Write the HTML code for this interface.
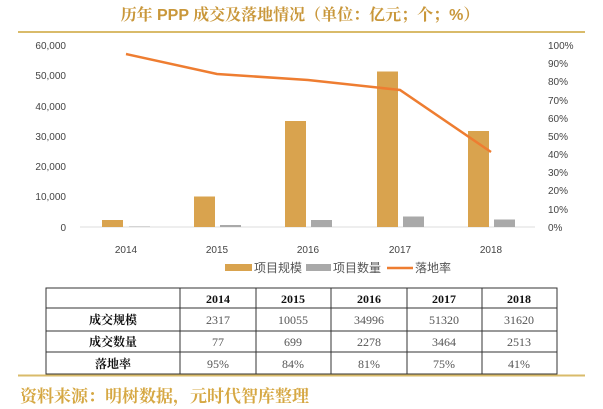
<!DOCTYPE html>
<html><head><meta charset="utf-8"><style>
body{margin:0;background:#fff;width:603px;height:409px;overflow:hidden;font-family:"Liberation Serif","Noto Serif CJK SC",serif}
</style></head><body>
<svg width="603" height="409" xmlns="http://www.w3.org/2000/svg" style="position:absolute;left:0;top:0">
<text x="300" y="20" text-anchor="middle" font-size="16" font-weight="bold" fill="#c9973a" font-family="Liberation Sans,Noto Serif CJK SC,serif">历年 PPP 成交及落地情况（单位：亿元；个；%）</text>
<line x1="18" y1="32" x2="585" y2="32" stroke="#d9bb6a" stroke-width="2"/>
<g font-family="Liberation Sans,sans-serif" font-size="10" fill="#444">
<text x="66" y="49" text-anchor="end">60,000</text>
<text x="66" y="79" text-anchor="end">50,000</text>
<text x="66" y="110" text-anchor="end">40,000</text>
<text x="66" y="140" text-anchor="end">30,000</text>
<text x="66" y="170" text-anchor="end">20,000</text>
<text x="66" y="200" text-anchor="end">10,000</text>
<text x="66" y="231" text-anchor="end">0</text>
<text x="548" y="49">100%</text><text x="548" y="67">90%</text><text x="548" y="85">80%</text><text x="548" y="104">70%</text><text x="548" y="122">60%</text><text x="548" y="140">50%</text><text x="548" y="158">40%</text><text x="548" y="176">30%</text><text x="548" y="194">20%</text><text x="548" y="213">10%</text><text x="548" y="231">0%</text>
<text x="126" y="253" text-anchor="middle">2014</text><text x="217" y="253" text-anchor="middle">2015</text><text x="308" y="253" text-anchor="middle">2016</text><text x="400" y="253" text-anchor="middle">2017</text><text x="491" y="253" text-anchor="middle">2018</text>
</g>
<line x1="80" y1="227" x2="535" y2="227" stroke="#ddd"/>
<g fill="#d9a34e">
<rect x="102" y="220" width="21" height="7"/>
<rect x="194" y="196.5" width="21" height="30.5"/>
<rect x="285" y="121" width="21" height="106"/>
<rect x="377" y="71.5" width="21" height="155.5"/>
<rect x="468" y="131" width="21" height="96"/>
</g>
<g fill="#a9a9a9">
<rect x="129" y="226.5" width="21" height="0.5"/>
<rect x="220" y="225" width="21" height="2"/>
<rect x="311" y="220" width="21" height="7"/>
<rect x="403" y="216.5" width="21" height="10.5"/>
<rect x="494" y="219.5" width="21" height="7.5"/>
</g>
<polyline points="126,54 217,74 308,80 400,90 491,152" fill="none" stroke="#ee7d31" stroke-width="2.5"/>
<rect x="225" y="264" width="27" height="7" fill="#d9a34e"/>
<rect x="306" y="264" width="25" height="7" fill="#a9a9a9"/>
<line x1="387" y1="268" x2="413" y2="268" stroke="#ee7d31" stroke-width="2.5"/>
<g font-size="12" fill="#555" font-family="Noto Sans CJK SC,sans-serif">
<text x="254" y="272">项目规模</text><text x="333" y="272">项目数量</text><text x="415" y="272">落地率</text>
</g>
<g stroke="#333" stroke-width="1" fill="none">
<rect x="46" y="288" width="511" height="86"/>
<line x1="46" y1="308" x2="557" y2="308"/><line x1="46" y1="331" x2="557" y2="331"/><line x1="46" y1="352" x2="557" y2="352"/>
<line x1="180" y1="288" x2="180" y2="374"/><line x1="256" y1="288" x2="256" y2="374"/><line x1="331" y1="288" x2="331" y2="374"/><line x1="407" y1="288" x2="407" y2="374"/><line x1="482" y1="288" x2="482" y2="374"/>
</g>
<g font-size="12" text-anchor="middle" fill="#111" font-weight="bold">
<text x="218" y="303">2014</text><text x="293" y="303">2015</text><text x="369" y="303">2016</text><text x="444" y="303">2017</text><text x="519" y="303">2018</text>
<text x="113" y="324" font-family="Noto Serif CJK SC,serif">成交规模</text>
<text x="113" y="346" font-family="Noto Serif CJK SC,serif">成交数量</text>
<text x="113" y="368" font-family="Noto Serif CJK SC,serif">落地率</text>
</g>
<g font-size="12" text-anchor="middle" fill="#555">
<text x="218" y="324">2317</text><text x="293" y="324">10055</text><text x="369" y="324">34996</text><text x="444" y="324">51320</text><text x="519" y="324">31620</text>
<text x="218" y="346">77</text><text x="293" y="346">699</text><text x="369" y="346">2278</text><text x="444" y="346">3464</text><text x="519" y="346">2513</text>
<text x="218" y="368">95%</text><text x="293" y="368">84%</text><text x="369" y="368">81%</text><text x="444" y="368">75%</text><text x="519" y="368">41%</text>
</g>
<line x1="18" y1="375.5" x2="585" y2="375.5" stroke="#d9bb6a" stroke-width="2"/>
<text x="20" y="402" font-size="17" font-weight="bold" fill="#d6a844" font-family="Noto Serif CJK SC,serif">资料来源：明树数据，元时代智库整理</text>
</svg>
</body></html>
